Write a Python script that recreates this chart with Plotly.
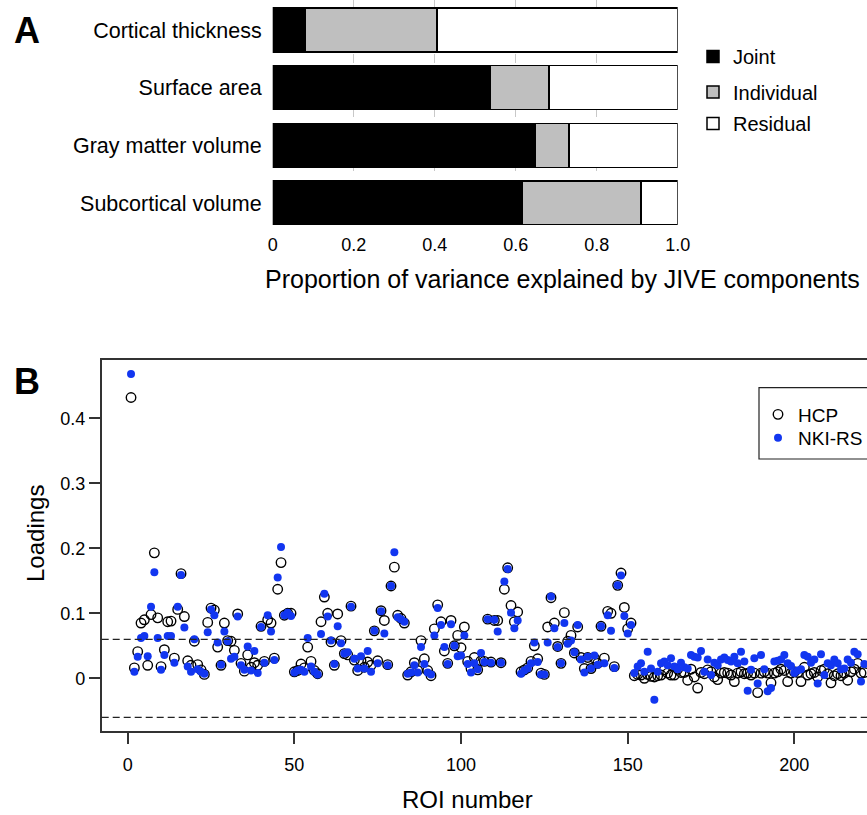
import plotly.graph_objects as go

# ---------------- Panel A data ----------------
categories = ["Cortical thickness", "Surface area", "Gray matter volume", "Subcortical volume"]
joint = [0.080, 0.537, 0.649, 0.616]
individual = [0.326, 0.145, 0.083, 0.293]
residual = [0.594, 0.318, 0.268, 0.091]
a_tickvals = [0, 0.2, 0.4, 0.6, 0.8, 1.0]
a_ticktext = ["0", "0.2", "0.4", "0.6", "0.8", "1.0"]

# ---------------- Panel B data ----------------
hcp = [
    0.432, 0.016, 0.041, 0.085, 0.090, 0.020, 0.098, 0.193, 0.093, 0.018,
    0.044, 0.087, 0.088, 0.031, 0.106, 0.161, 0.095, 0.027, 0.020, 0.057,
    0.021, 0.013, 0.006, 0.086, 0.108, 0.105, 0.048, 0.020, 0.085, 0.058,
    0.057, 0.043, 0.099, 0.023, 0.011, 0.036, 0.017, 0.024, 0.020, 0.080,
    0.026, 0.090, 0.085, 0.031, 0.137, 0.178, 0.097, 0.100, 0.100, 0.010,
    0.012, 0.022, 0.016, 0.048, 0.026, 0.012, 0.007, 0.087, 0.125, 0.100,
    0.056, 0.020, 0.099, 0.058, 0.038, 0.036, 0.111, 0.028, 0.012, 0.027,
    0.017, 0.025, 0.020, 0.073, 0.027, 0.104, 0.089, 0.021, 0.142, 0.171,
    0.097, 0.092, 0.085, 0.005, 0.010, 0.024, 0.012, 0.058, 0.030, 0.012,
    0.004, 0.076, 0.113, 0.087, 0.042, 0.023, 0.089, 0.050, 0.066, 0.047,
    0.079, 0.026, 0.015, 0.032, 0.013, 0.027, 0.026, 0.091, 0.025, 0.089,
    0.089, 0.024, 0.137, 0.170, 0.112, 0.087, 0.102, 0.010, 0.013, 0.016,
    0.026, 0.050, 0.030, 0.008, 0.006, 0.079, 0.124, 0.085, 0.049, 0.023,
    0.101, 0.057, 0.066, 0.039, 0.079, 0.032, 0.015, 0.032, 0.015, 0.031,
    0.023, 0.080, 0.031, 0.103, 0.100, 0.018, 0.143, 0.162, 0.109, 0.076,
    0.085, 0.004, 0.006, 0.005, 0.000, 0.006, 0.003, 0.002, 0.004, 0.005,
    0.013, 0.008, 0.005, 0.005, 0.014, 0.009, 0.009, -0.003, 0.014, 0.002,
    -0.015, 0.009, 0.007, 0.013, 0.010, 0.002, -0.002, 0.008, 0.009, 0.008,
    0.005, -0.005, 0.008, 0.010, 0.007, 0.008, 0.005, 0.008, -0.022, 0.008,
    0.010, 0.008, -0.007, 0.008, 0.010, 0.014, 0.012, -0.005, 0.008, 0.010,
    0.009, -0.005, 0.017, 0.005, 0.007, 0.009, 0.002, 0.012, 0.014, 0.007,
    -0.007, 0.004, 0.007, 0.004, 0.008, -0.003, 0.010, 0.014, 0.023, 0.008,
    0.009,
]
nki = [
    0.468, 0.010, 0.033, 0.062, 0.065, 0.034, 0.110, 0.163, 0.062, 0.013,
    0.036, 0.065, 0.065, 0.024, 0.110, 0.159, 0.078, 0.018, 0.010, 0.060,
    0.014, 0.010, 0.007, 0.071, 0.106, 0.097, 0.055, 0.021, 0.072, 0.057,
    0.030, 0.033, 0.095, 0.020, 0.013, 0.049, 0.012, 0.042, 0.008, 0.079,
    0.024, 0.097, 0.072, 0.028, 0.155, 0.202, 0.097, 0.101, 0.096, 0.009,
    0.012, 0.013, 0.010, 0.062, 0.018, 0.010, 0.006, 0.068, 0.130, 0.095,
    0.058, 0.022, 0.080, 0.054, 0.038, 0.040, 0.110, 0.030, 0.015, 0.034,
    0.015, 0.042, 0.010, 0.073, 0.023, 0.103, 0.069, 0.020, 0.142, 0.194,
    0.094, 0.091, 0.087, 0.007, 0.009, 0.020, 0.009, 0.048, 0.022, 0.009,
    0.006, 0.066, 0.108, 0.082, 0.048, 0.022, 0.083, 0.050, 0.034, 0.035,
    0.066, 0.022, 0.009, 0.023, 0.014, 0.039, 0.025, 0.091, 0.024, 0.090,
    0.072, 0.024, 0.149, 0.168, 0.101, 0.077, 0.089, 0.007, 0.012, 0.015,
    0.023, 0.055, 0.025, 0.006, 0.006, 0.055, 0.126, 0.077, 0.048, 0.023,
    0.085, 0.053, 0.058, 0.040, 0.082, 0.029, 0.009, 0.033, 0.015, 0.035,
    0.021, 0.080, 0.023, 0.097, 0.073, 0.016, 0.143, 0.158, 0.096, 0.069,
    0.082, 0.008, 0.018, 0.023, 0.010, 0.041, 0.015, -0.033, 0.010, 0.023,
    0.026, 0.020, 0.031, 0.018, 0.014, 0.024, 0.017, 0.015, 0.036, 0.033,
    0.032, 0.042, 0.010, 0.029, 0.005, 0.024, 0.020, 0.029, 0.032, 0.028,
    0.026, 0.033, 0.023, 0.041, 0.026, -0.019, 0.013, 0.031, -0.008, 0.036,
    0.014, -0.020, -0.015, 0.026, 0.027, 0.029, 0.036, 0.023, 0.019, 0.008,
    0.012, 0.014, 0.036, 0.033, 0.024, 0.029, -0.008, 0.037, 0.005, 0.023,
    0.020, 0.029, 0.023, 0.014, 0.015, 0.029, 0.024, 0.041, 0.037, -0.005,
    0.022,
]
roi = list(range(1, len(hcp) + 1))
b_xtickvals = [0, 50, 100, 150, 200]
b_ytickvals = [0, 0.1, 0.2, 0.3, 0.4]
b_yticktext = ["0", "0.1", "0.2", "0.3", "0.4"]
threshold = 0.06

W, H = 867, 815
FONT = "Liberation Sans, Arial, Helvetica, sans-serif"


def px_x(p):
    return p / W


def px_y(p):
    return 1 - p / H


fig = go.Figure()

bar_specs = [("Joint", joint, "black", "legend"),
             ("Individual", individual, "#bfbfbf", "legend3"),
             ("Residual", residual, "white", "legend4")]
for name, vals, col, leg in bar_specs:
    fig.add_trace(go.Bar(
        y=categories, x=vals, orientation="h", name=name,
        marker=dict(color=col, line=dict(color="black", width=1.5)),
        width=0.763, xaxis="x", yaxis="y", legend=leg,
    ))

fig.add_trace(go.Scatter(
    x=roi, y=hcp, mode="markers", name="HCP",
    marker=dict(symbol="circle-open", size=9.5, color="black", line=dict(width=1.4)),
    xaxis="x2", yaxis="y2", legend="legend2",
))
fig.add_trace(go.Scatter(
    x=roi, y=nki, mode="markers", name="NKI-RS",
    marker=dict(symbol="circle", size=8, color="#1236f0", line=dict(width=0)),
    xaxis="x2", yaxis="y2", legend="legend5",
))

leg_common = dict(xanchor="left", yanchor="top", bgcolor="rgba(0,0,0,0)")
fig.update_layout(
    width=W, height=H,
    margin=dict(l=0, r=0, t=0, b=0, pad=0, autoexpand=False),
    paper_bgcolor="white", plot_bgcolor="white",
    font=dict(family=FONT, color="black"),
    barmode="stack",
    xaxis=dict(
        domain=[px_x(272.7), px_x(677.7)], range=[0, 1], anchor="y",
        tickvals=a_tickvals, ticktext=a_ticktext, tickfont=dict(size=18),
        showgrid=True, gridcolor="#c8c8c8", griddash="dash", gridwidth=1,
        zeroline=False, showline=False, ticks="", ticklabelstandoff=7,
    ),
    yaxis=dict(
        domain=[px_y(225), 1.0], anchor="x", type="category",
        categoryorder="array", categoryarray=categories,
        range=[3.381, -0.52], showgrid=False, zeroline=False, showline=False,
        ticks="", tickfont=dict(size=21.5), ticklabelstandoff=10,
    ),
    xaxis2=dict(
        domain=[px_x(101.7), 1.0], range=[-7.8, 221.8], anchor="y2",
        showline=True, linecolor="#333", linewidth=1.5, mirror=True,
        ticks="outside", ticklen=11, tickwidth=1.5, tickcolor="#333",
        tickvals=b_xtickvals, tickfont=dict(size=18), ticklabelstandoff=6,
        showgrid=False, zeroline=False,
    ),
    yaxis2=dict(
        domain=[px_y(731), px_y(360)], range=[-0.0811, 0.4897], anchor="x2",
        showline=True, linecolor="#333", linewidth=1.5,
        ticks="outside", ticklen=11, tickwidth=1.5, tickcolor="#333",
        tickvals=b_ytickvals, ticktext=b_yticktext, tickfont=dict(size=18),
        showgrid=False, zeroline=False,
    ),
    legend=dict(x=px_x(693), y=px_y(37), font=dict(size=20), **leg_common),
    legend3=dict(x=px_x(693), y=px_y(72.5), font=dict(size=20), **leg_common),
    legend4=dict(x=px_x(693), y=px_y(104), font=dict(size=20), **leg_common),
    legend2=dict(x=px_x(758), y=px_y(395.5), font=dict(size=19), **leg_common),
    legend5=dict(x=px_x(758), y=px_y(419), font=dict(size=19), **leg_common),
    showlegend=True,
)

# threshold lines
for yv in (threshold, -threshold):
    fig.add_shape(type="line", xref="x2 domain", yref="y2", x0=0, x1=1, y0=yv, y1=yv,
                  line=dict(color="#222", width=1.3, dash="7px,4px"))

# legend box for panel B
fig.add_shape(type="rect", xref="paper", yref="paper",
              x0=px_x(759), x1=1.08, y0=px_y(459), y1=px_y(387.7),
              line=dict(color="#222", width=1.2), fillcolor="rgba(0,0,0,0)")

annos = [
    dict(text="<b>A</b>", x=px_x(27.5), y=px_y(30), font=dict(size=36)),
    dict(text="<b>B</b>", x=px_x(27), y=px_y(382), font=dict(size=36)),
    dict(text="Proportion of variance explained by JIVE components",
         x=px_x(562.5), y=px_y(279), font=dict(size=25)),
    dict(text="Loadings", x=px_x(35), y=px_y(534), font=dict(size=24), textangle=-90),
    dict(text="ROI number", x=px_x(467), y=px_y(799), font=dict(size=24)),
]
for a in annos:
    fig.add_annotation(xref="paper", yref="paper", showarrow=False,
                       xanchor="center", yanchor="middle", **a)

fig.write_html("out.html")
